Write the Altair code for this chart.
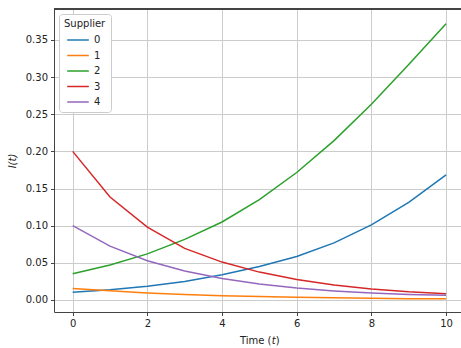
import altair as alt
import pandas as pd

times = [0, 1, 2, 3, 4, 5, 6, 7, 8, 9, 10]
suppliers = ["0", "1", "2", "3", "4"]
s0 = [0.0103, 0.0138, 0.0185, 0.0250, 0.0340, 0.0450, 0.0585, 0.0768, 0.1010, 0.1315, 0.1685]
s1 = [0.0155, 0.0125, 0.0095, 0.0073, 0.0057, 0.0045, 0.0036, 0.0029, 0.0023, 0.0018, 0.0015]
s2 = [0.0353, 0.0470, 0.0620, 0.0815, 0.1050, 0.1350, 0.1716, 0.2145, 0.2635, 0.3170, 0.3718]
s3 = [0.2000, 0.1385, 0.0980, 0.0695, 0.0510, 0.0375, 0.0277, 0.0200, 0.0147, 0.0110, 0.0085]
s4 = [0.1000, 0.0724, 0.0527, 0.0390, 0.0290, 0.0214, 0.0160, 0.0122, 0.0094, 0.0075, 0.0062]
colors = ["#1f77b4", "#ff7f0e", "#2ca02c", "#d62728", "#9467bd"]

rows = []
for name, vals in zip(suppliers, [s0, s1, s2, s3, s4]):
    for t, v in zip(times, vals):
        rows.append({"t": t, "I": v, "Supplier": name})
df = pd.DataFrame(rows)
one = pd.DataFrame({"k": [0]})

FONT = "DejaVu Sans"
TXT = "#222222"

lines = alt.Chart(df).mark_line(strokeWidth=1.5).encode(
    x=alt.X("t:Q",
            scale=alt.Scale(domain=[-0.5, 10.4], nice=False, zero=False),
            axis=alt.Axis(values=[0, 2, 4, 6, 8, 10], format="d", title=None)),
    y=alt.Y("I:Q",
            scale=alt.Scale(domain=[-0.0162, 0.3917], nice=False, zero=False),
            axis=alt.Axis(values=[0, 0.05, 0.1, 0.15, 0.2, 0.25, 0.3, 0.35], format=".2f",
                          title="I(t)", titleFontStyle="italic", titleX=-42, titleY=151.5,
                          titleBaseline="middle", titleAlign="center", titleAngle=-90)),
    color=alt.Color("Supplier:N", scale=alt.Scale(domain=suppliers, range=colors),
                    legend=alt.Legend(orient="none", legendX=5, legendY=5, title="Supplier")),
)

topspine = alt.Chart(df).mark_rule(color="#444444", strokeWidth=1).encode(
    x=alt.value(0), x2=alt.value(407), y=alt.value(0)
)

tkw = dict(font=FONT, fontSize=10, color=TXT, baseline="middle")
xt1 = alt.Chart(one).mark_text(align="right", **tkw).encode(
    x=alt.value(217.5), y=alt.value(332), text=alt.value("Time ("))
xt2 = alt.Chart(one).mark_text(align="left", fontStyle="italic", **tkw).encode(
    x=alt.value(217.8), y=alt.value(332), text=alt.value("t"))
xt3 = alt.Chart(one).mark_text(align="left", **tkw).encode(
    x=alt.value(221.8), y=alt.value(332), text=alt.value(")"))

chart = alt.layer(lines, topspine, xt1, xt2, xt3).properties(
    width=407, height=303,
    autosize=alt.AutoSizeParams(type="none"),
    padding={"left": 54, "top": 9, "right": 0, "bottom": 36},
).configure_view(stroke=None).configure_axis(
    labelFont=FONT, titleFont=FONT, labelFontSize=10, titleFontSize=10,
    labelColor=TXT, titleColor=TXT, titleFontWeight="normal",
    domainColor="#444444", domainWidth=1, tickColor="#444444", tickSize=3.5, tickWidth=1,
    gridColor="#cccccc", gridWidth=1, labelPadding=3,
).configure_legend(
    labelFont=FONT, titleFont=FONT, labelFontSize=10, titleFontSize=10,
    labelColor=TXT, titleColor=TXT, titleFontWeight="normal",
    symbolType="M-1.8,0L1.8,0", symbolSize=144, symbolStrokeWidth=1.5,
    padding=5, cornerRadius=3, strokeColor="#cccccc", fillColor="white",
    rowPadding=3.5, symbolOffset=7, labelOffset=9, titlePadding=4,
)

chart.save("out.html", embed_options={"renderer": "svg", "actions": False})
